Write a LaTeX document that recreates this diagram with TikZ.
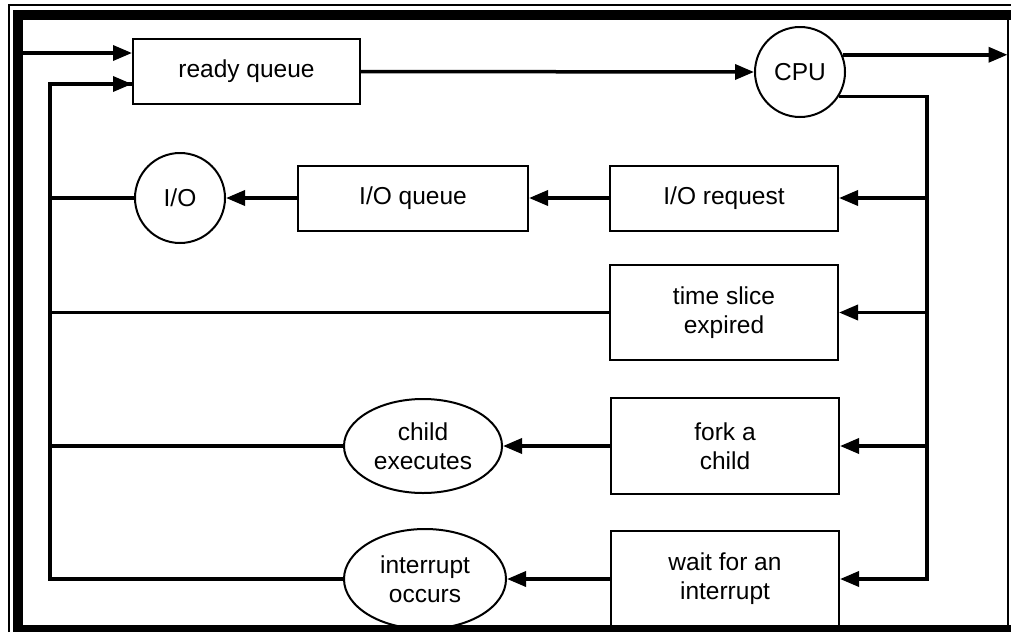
\documentclass[tikz,border=0pt]{standalone}
\usepackage{fontspec}
\setmainfont{Liberation Sans}
\usetikzlibrary{arrows.meta,shapes.geometric}
\begin{document}
\begin{tikzpicture}[x=1pt,y=-1pt,
  box/.style={draw,line width=2pt,rectangle,inner sep=0pt,align=center,font=\fontsize{24.5}{29}\selectfont},
  circ/.style={draw,line width=2pt,circle,inner sep=0pt,minimum size=90pt,font=\fontsize{24.5}{29}\selectfont},
  ell/.style={draw,line width=2pt,ellipse,inner sep=0pt,minimum width=158pt,minimum height=94pt,align=center,font=\fontsize{24.5}{29}\selectfont},
  conn/.style={line width=3.5pt},
  arr/.style={conn,-{Triangle[length=19pt,width=15pt]}}
]
\useasboundingbox (0,0) rectangle (1011,632);
% frame
\fill[white] (0,0) rectangle (1011,632);
\draw[line width=2pt] (8.5,632) -- (8.5,5) -- (1011,5);
\draw[line width=2pt] (1007.5,20) -- (1007.5,625);
\fill[black] (13,10) rectangle (23,632);
\fill[black] (13,10) rectangle (1011,20);
\fill[black] (13,625) rectangle (1011,632);

% nodes
\node[box,minimum width=227pt,minimum height=65pt] (rq) at (246.5,71.5) {ready queue};
\node[circ] (cpu) at (800,72) {CPU};
\node[box,minimum width=228pt,minimum height=65pt] (ioreq) at (724,198) {I/O request};
\node[box,minimum width=230pt,minimum height=65pt] (ioq) at (413,198) {I/O queue};
\node[circ] (io) at (180,198) {I/O};
\node[box,minimum width=228pt,minimum height=95pt] (ts) at (724,312.5) {time slice\\expired};
\node[box,minimum width=228pt,minimum height=96pt] (fork) at (725,446) {fork a\\child};
\node[box,minimum width=228pt,minimum height=96pt] (wait) at (725,579) {wait for an\\interrupt};
\node[ell] (child) at (423,446) {child\\executes};
\node[ell,minimum width=162pt,minimum height=100pt] (intr) at (425,579) {interrupt\\occurs};

\coordinate (inL) at (23,53);
\coordinate (outR) at (1007.5,55);
\coordinate (busB) at (927,579);
\coordinate (loopB) at (50,579);

% connectors
\draw[arr] (inL) -- (inL -| rq.west);
\draw[arr] (rq.east) -- (cpu.west);
\draw[arr] (cpu.22) -- (cpu.22 -| outR);
\draw[conn,line join=miter] (cpu.-32) -| (busB) -- ([xshift=10pt]wait.east);
\draw[arr] (busB) -- (wait.east);
\draw[arr] (busB |- ioreq.east) -- (ioreq.east);
\draw[arr] (busB |- ts.east) -- (ts.east);
\draw[arr] (busB |- fork.east) -- (fork.east);
\draw[arr] (ioreq.west) -- (ioq.east);
\draw[arr] (ioq.west) -- (io.east);
\draw[arr] (fork.west) -- (child.east);
\draw[arr] (wait.west) -- (intr.east);
\draw[conn,line join=miter] (intr.west) -- (loopB) |- ([yshift=-12.5pt]rq.west);
\draw[arr] ([yshift=-12.5pt]rq.west -| loopB) -- ([yshift=-12.5pt]rq.west);
\draw[conn] (io.west) -- (io.west -| loopB);
\draw[conn] (ts.west) -- (ts.west -| loopB);
\draw[conn] (child.west) -- (child.west -| loopB);
\end{tikzpicture}
\end{document}
